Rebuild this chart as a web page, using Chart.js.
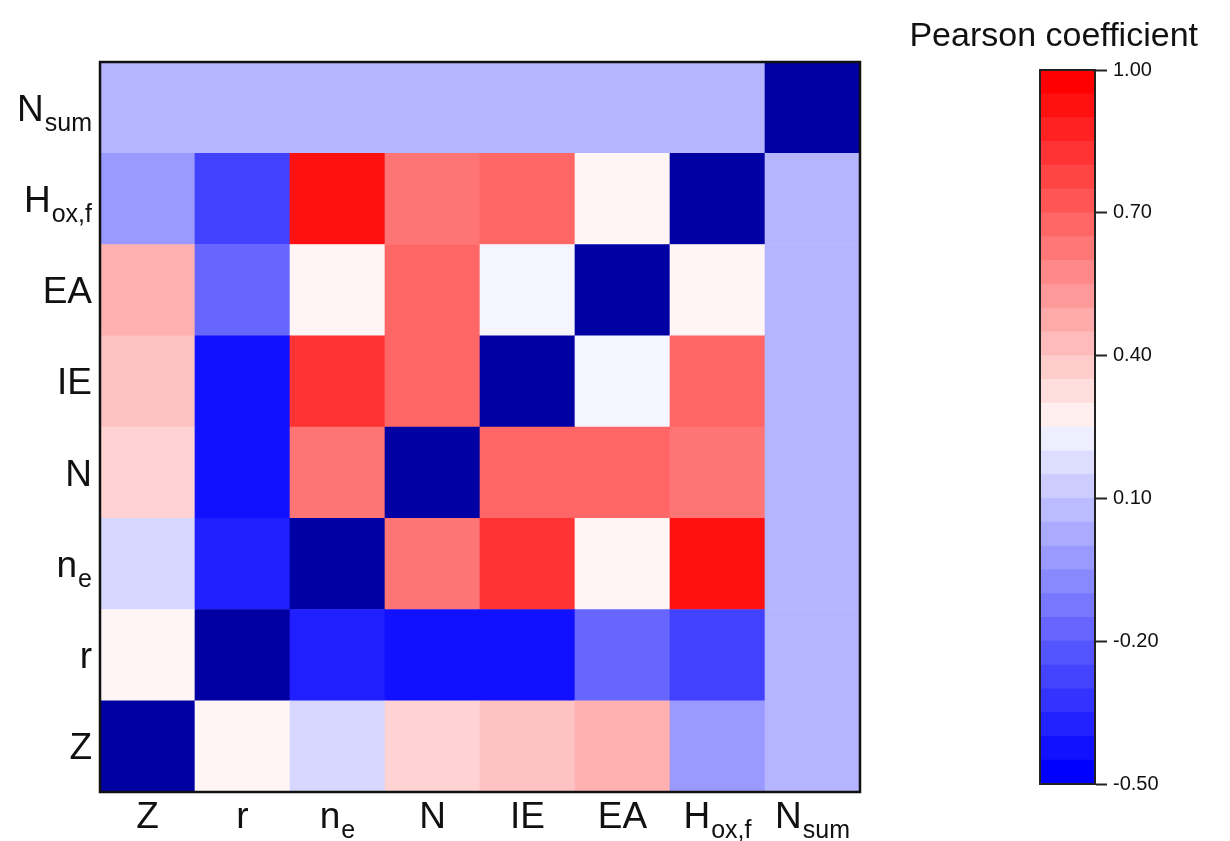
<!DOCTYPE html>
<html>
<head>
<meta charset="utf-8">
<script src="https://cdn.jsdelivr.net/npm/chart.js@4.4.1/dist/chart.umd.min.js"></script>
<style>
  body { margin: 0; background: #fff; width: 1230px; height: 841px; overflow: hidden; position: relative;
         font-family: "Liberation Sans", Arial, sans-serif; }
  #heat { position: absolute; left: 0; top: 0; }
  #bar { position: absolute; left: 1000px; top: 0; }
  #cbTitle { position: absolute; right: 32px; top: 15px; font-size: 34px; color: #111; white-space: nowrap; }
</style>
</head>
<body>
<canvas id="heat" width="900" height="841"></canvas>
<canvas id="bar" width="230" height="841"></canvas>
<div id="cbTitle">Pearson coefficient</div>

<script>
// variable names as [main, subscript]; same order on both axes (bottom -> top for rows)
const varNames = [['Z', ''], ['r', ''], ['n', 'e'], ['N', ''], ['IE', ''], ['EA', ''], ['H', 'ox,f'], ['N', 'sum']];

// Pearson coefficients, columns in varNames order; null = diagonal
const rowZ    = [null,  0.28,  0.13,  0.38,  0.43,  0.48, -0.05, 0.03];
const rowR    = [0.28,  null, -0.41, -0.45, -0.45, -0.20, -0.31, 0.03];
const rowNe   = [0.13, -0.41,  null,  0.66,  0.85,  0.28,  0.95, 0.03];
const rowN    = [0.38, -0.45,  0.66,  null,  0.70,  0.70,  0.66, 0.03];
const rowIE   = [0.43, -0.45,  0.85,  0.70,  null,  0.22,  0.70, 0.03];
const rowEA   = [0.48, -0.20,  0.28,  0.70,  0.22,  null,  0.28, 0.03];
const rowHox  = [-0.05, -0.31, 0.95,  0.66,  0.70,  0.28,  null, 0.03];
const rowNsum = [0.03,  0.03,  0.03,  0.03,  0.03,  0.03,  0.03, null];
const rows = [rowZ, rowR, rowNe, rowN, rowIE, rowEA, rowHox, rowNsum];

// colour scale: blue -> white at cMid -> red
const cMin = -0.5, cMid = 0.25, cMax = 1.0;
const cbTicks = [-0.5, -0.2, 0.1, 0.4, 0.7, 1.0];
const bandCount = 30;
const diagColor = '#0000a3';

const FONT = '"Liberation Sans", Arial, sans-serif';

function coefColor(v) {
  if (v === null) return diagColor;
  v = Math.max(cMin, Math.min(cMax, v));
  if (v <= cMid) {
    const c = Math.round(255 * (v - cMin) / (cMid - cMin));
    return `rgb(${c},${c},255)`;
  }
  const c = Math.round(255 * (cMax - v) / (cMax - cMid));
  return `rgb(255,${c},${c})`;
}

function drawName(ctx, name, x, y, align) {
  const [main, sub] = name;
  ctx.font = `37px ${FONT}`;
  const wMain = ctx.measureText(main).width;
  ctx.font = `25px ${FONT}`;
  const wSub = sub ? ctx.measureText(sub).width + 1 : 0;
  const x0 = align === 'right' ? x - wMain - wSub : x - (wMain + wSub) / 2;
  ctx.textAlign = 'left';
  ctx.textBaseline = 'alphabetic';
  ctx.fillStyle = '#111';
  ctx.font = `37px ${FONT}`;
  ctx.fillText(main, x0, y);
  if (sub) {
    ctx.font = `25px ${FONT}`;
    ctx.fillText(sub, x0 + wMain + 1, y + 10);
  }
}

const heatLabels = {
  id: 'heatLabels',
  afterDraw(chart) {
    const { ctx, chartArea: a, scales } = chart;
    ctx.save();
    ctx.strokeStyle = '#111';
    ctx.lineWidth = 2.5;
    ctx.strokeRect(a.left, a.top, a.right - a.left, a.bottom - a.top);
    varNames.forEach((name, i) => {
      drawName(ctx, name, scales.x.getPixelForValue(i), a.bottom + 36, 'center');
      drawName(ctx, name, a.left - 8, scales.y.getPixelForValue(i + 0.5) + 13, 'right');
    });
    ctx.restore();
  }
};

new Chart(document.getElementById('heat'), {
  type: 'bar',
  data: {
    labels: varNames.map(n => n.join('')),
    datasets: rows.map((row, r) => ({
      label: varNames[r].join(''),
      data: row.map(() => 1),
      backgroundColor: row.map(coefColor),
      borderWidth: 0,
      barPercentage: 1,
      categoryPercentage: 1
    }))
  },
  options: {
    responsive: false,
    animation: false,
    layout: { padding: { left: 100, top: 62, right: 40, bottom: 49 } },
    plugins: { legend: { display: false }, tooltip: { enabled: false } },
    scales: {
      x: { stacked: true, display: false },
      y: { stacked: true, display: false, min: 0, max: 8 }
    }
  },
  plugins: [heatLabels]
});

// colour bar: one floating bar per band
const bandStep = (cMax - cMin) / bandCount;
const bands = [];
for (let i = 0; i < bandCount; i++) bands.push([cMin + i * bandStep, cMin + (i + 1) * bandStep]);

const barFrame = {
  id: 'barFrame',
  afterDraw(chart) {
    const { ctx, chartArea: a } = chart;
    ctx.save();
    ctx.strokeStyle = '#222';
    ctx.lineWidth = 2;
    ctx.strokeRect(a.left, a.top, a.right - a.left, a.bottom - a.top);
    ctx.restore();
  }
};

new Chart(document.getElementById('bar'), {
  type: 'bar',
  data: {
    labels: [''],
    datasets: bands.map(([lo, hi]) => ({
      data: [[lo, hi]],
      // each band takes the colour of its edge farther from the midpoint
      backgroundColor: coefColor(hi <= cMid ? lo : hi),
      borderWidth: 0,
      grouped: false,
      barPercentage: 1,
      categoryPercentage: 1
    }))
  },
  options: {
    responsive: false,
    animation: false,
    layout: { padding: { left: 40, top: 70, right: 0, bottom: 57 } },
    plugins: { legend: { display: false }, tooltip: { enabled: false } },
    scales: {
      x: { display: false },
      y: {
        position: 'right',
        min: cMin,
        max: cMax,
        afterFit: s => { s.width = 135; },
        afterBuildTicks: s => { s.ticks = cbTicks.map(v => ({ value: v })); },
        border: { display: true, color: '#222', width: 2 },
        grid: { drawOnChartArea: false, drawTicks: true, tickLength: 12, tickWidth: 2, tickColor: '#222' },
        ticks: {
          padding: 6,
          color: '#111',
          font: { size: 20, family: FONT },
          callback: v => Number(v).toFixed(2)
        }
      }
    }
  },
  plugins: [barFrame]
});
</script>
</body>
</html>
